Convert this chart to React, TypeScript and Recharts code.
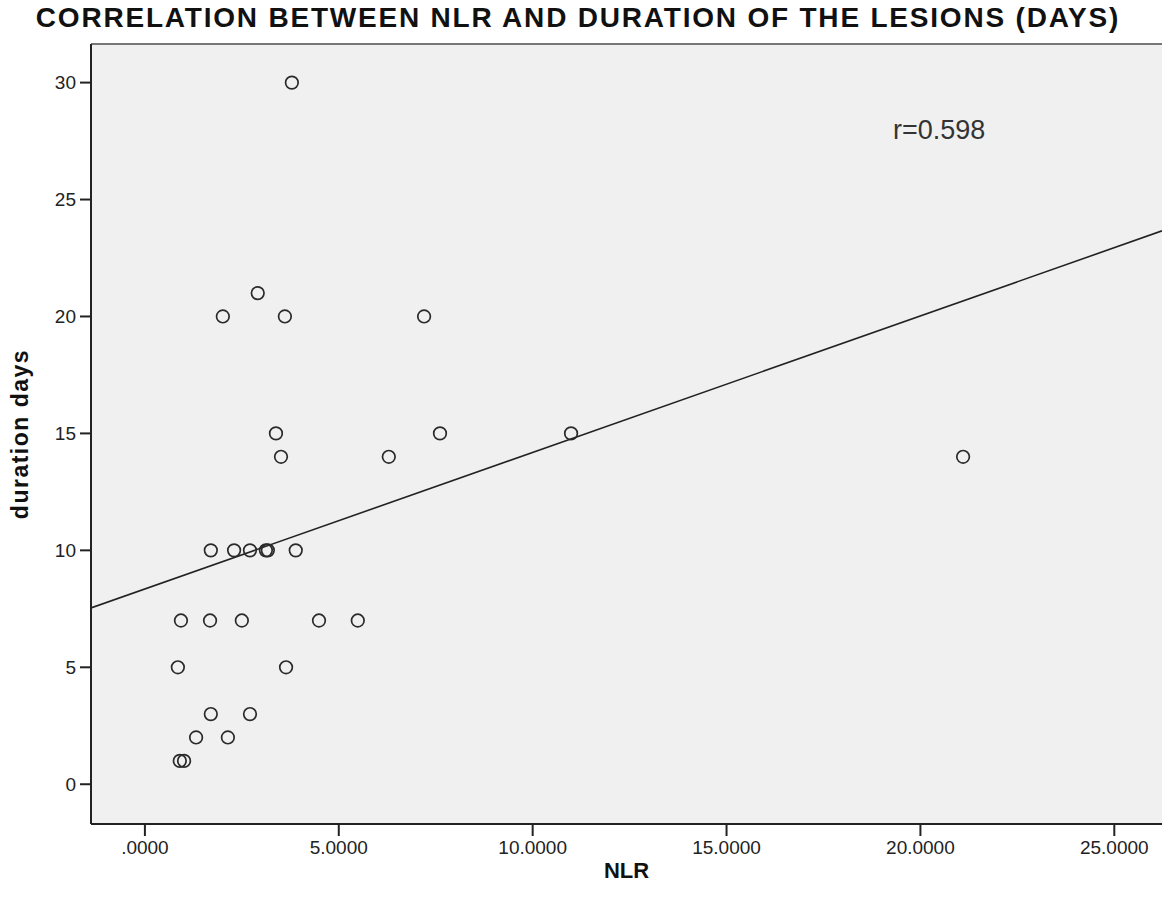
import React from "react";
import {
  ScatterChart,
  Scatter,
  XAxis,
  YAxis,
  ZAxis,
  CartesianGrid,
  ReferenceLine,
  ReferenceArea,
  Label,
} from "recharts";

// NLR value of each patient
const nlr = [
  3.79, 2.91, 2.01, 3.61, 7.2, 3.38, 7.61, 10.99, 3.51, 6.29, 21.1, 1.7, 2.3, 2.71, 3.12,
  3.17, 3.89, 0.93, 1.68, 2.5, 4.49, 5.49, 0.85, 3.64, 1.7, 2.71, 1.32, 2.14, 0.9, 1.01,
];
// duration of the lesions (days), same order
const durationDays = [
  30, 21, 20, 20, 20, 15, 15, 15, 14, 14, 14, 10, 10, 10, 10,
  10, 10, 7, 7, 7, 7, 7, 5, 5, 3, 3, 2, 2, 1, 1,
];

// fitted line, read at the plot edges
const fitX = [-1.39, 26.23];
const fitY = [7.54, 23.66];

const xTicks = [0, 5, 10, 15, 20, 25];
const xTickLabels = [".0000", "5.0000", "10.0000", "15.0000", "20.0000", "25.0000"];
const yTicks = [0, 5, 10, 15, 20, 25, 30];

const X_DOMAIN: [number, number] = [-1.39, 26.23];
const Y_DOMAIN: [number, number] = [-1.7, 31.65];

const FONT = "Arial, 'Liberation Sans', sans-serif";
const INK = "#222";

const points = nlr.map((x, i) => ({ x, y: durationDays[i] }));

const OpenCircle = (props: any) => {
  const { cx, cy } = props;
  if (cx == null || cy == null) return null;
  return <circle cx={cx} cy={cy} r={6.3} fill="none" stroke="#2a2a2a" strokeWidth={1.7} />;
};

export default function App() {
  return (
    <div
      style={{
        position: "absolute",
        left: 0,
        top: 0,
        width: 1162,
        height: 911,
        background: "#fff",
        fontFamily: FONT,
      }}
    >
      <div
        style={{
          position: "absolute",
          left: 0,
          width: 1162,
          top: 2,
          textAlign: "center",
          fontSize: 28,
          fontWeight: "bold",
          color: "#111",
          letterSpacing: 1.8,
        }}
      >
        <span style={{ position: "relative", left: -3 }}>
          CORRELATION BETWEEN NLR AND DURATION OF THE LESIONS (DAYS)
        </span>
      </div>
      <div style={{ position: "absolute", left: 0, top: 0 }}>
        <ScatterChart width={1162} height={911} margin={{ top: 44, right: 0, bottom: 0, left: 0 }}>
          <CartesianGrid fill="#f0f0f0" horizontal={false} vertical={false} />
          <ReferenceLine y={Y_DOMAIN[1]} stroke="#777" strokeWidth={2} ifOverflow="extendDomain" />
          <XAxis
            type="number"
            dataKey="x"
            domain={X_DOMAIN}
            allowDataOverflow
            ticks={xTicks}
            tickFormatter={(v: number) => xTickLabels[xTicks.indexOf(v)] ?? String(v)}
            height={87}
            tickSize={12}
            tickMargin={5}
            axisLine={{ stroke: INK, strokeWidth: 2 }}
            tickLine={{ stroke: INK, strokeWidth: 2 }}
            tick={{ fill: INK, fontSize: 19, fontFamily: FONT }}
          >
            <Label
              value="NLR"
              position="insideBottom"
              offset={33}
              style={{ fontSize: 22, fontWeight: "bold", fill: "#111", fontFamily: FONT }}
            />
          </XAxis>
          <YAxis
            type="number"
            dataKey="y"
            domain={Y_DOMAIN}
            allowDataOverflow
            ticks={yTicks}
            width={91}
            tickSize={11}
            tickMargin={4}
            axisLine={{ stroke: INK, strokeWidth: 2 }}
            tickLine={{ stroke: INK, strokeWidth: 2 }}
            tick={{ fill: INK, fontSize: 19, fontFamily: FONT }}
          >
            <Label
              value="duration days"
              angle={-90}
              position="insideLeft"
              offset={20}
              style={{
                fontSize: 23,
                fontWeight: "bold",
                fill: "#111",
                fontFamily: FONT,
                textAnchor: "middle",
                letterSpacing: 1.5,
              }}
            />
          </YAxis>
          <ZAxis range={[100, 100]} />
          <ReferenceLine
            segment={[
              { x: fitX[0], y: fitY[0] },
              { x: fitX[1], y: fitY[1] },
            ]}
            stroke="#222"
            strokeWidth={1.6}
            ifOverflow="hidden"
          />
          <Scatter data={points} shape={OpenCircle} isAnimationActive={false} />
          <ReferenceArea
            x1={X_DOMAIN[0]}
            x2={X_DOMAIN[1]}
            y1={Y_DOMAIN[0]}
            y2={Y_DOMAIN[1]}
            fill="none"
            stroke="none"
            ifOverflow="hidden"
            label={{
              value: "r=0.598",
              position: "insideTopRight",
              offset: 0,
              content: (p: any) => {
                const vb = p.viewBox || {};
                return (
                  <text x={vb.x + 802} y={vb.y + 95} fontSize={27} fill="#333" fontFamily={FONT}>
                    r=0.598
                  </text>
                );
              },
            }}
          />
        </ScatterChart>
      </div>
    </div>
  );
}
